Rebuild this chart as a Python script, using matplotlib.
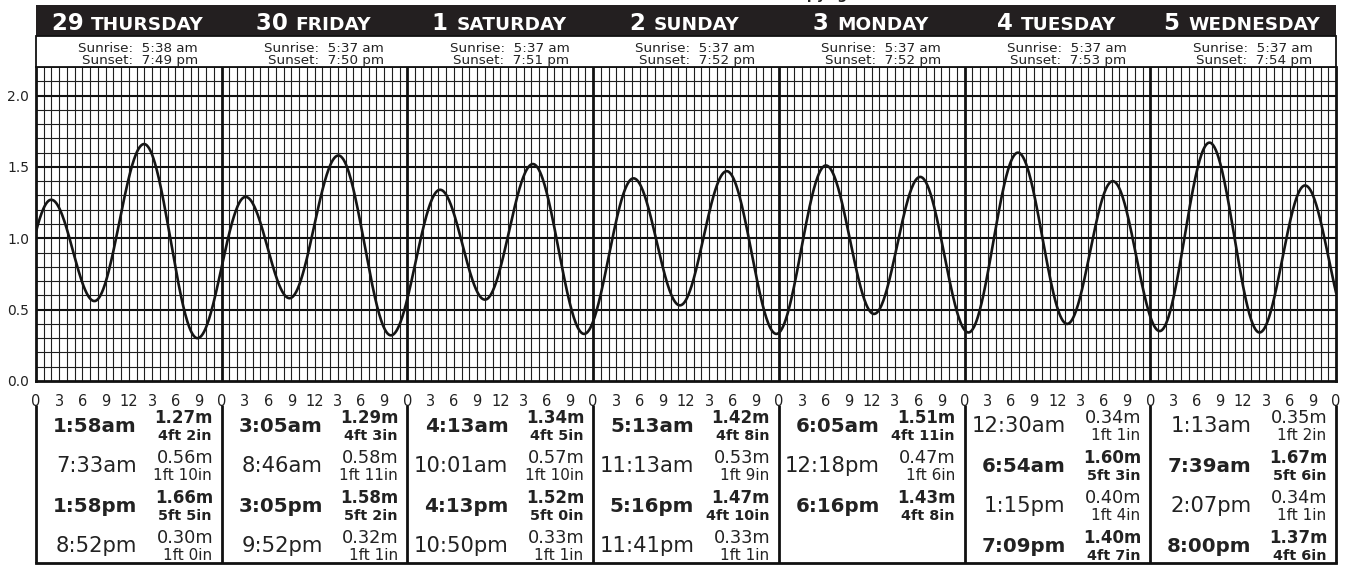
import matplotlib
matplotlib.use('Agg')
import matplotlib.pyplot as plt
import numpy as np
from matplotlib.patches import Rectangle
from matplotlib.transforms import blended_transform_factory, ScaledTranslation

# ---------------- data ----------------
day_nums = ['29', '30', '1', '2', '3', '4', '5']
day_names = ['THURSDAY', 'FRIDAY', 'SATURDAY', 'SUNDAY', 'MONDAY', 'TUESDAY', 'WEDNESDAY']
sunrise = ['5:38 am', '5:37 am', '5:37 am', '5:37 am', '5:37 am', '5:37 am', '5:37 am']
sunset = ['7:49 pm', '7:50 pm', '7:51 pm', '7:52 pm', '7:52 pm', '7:53 pm', '7:54 pm']

tide_day = [0, 0, 0, 0, 1, 1, 1, 1, 2, 2, 2, 2, 3, 3, 3, 3, 4, 4, 4, 5, 5, 5, 5, 6, 6, 6, 6]
tide_time = ['1:58am', '7:33am', '1:58pm', '8:52pm',
             '3:05am', '8:46am', '3:05pm', '9:52pm',
             '4:13am', '10:01am', '4:13pm', '10:50pm',
             '5:13am', '11:13am', '5:16pm', '11:41pm',
             '6:05am', '12:18pm', '6:16pm',
             '12:30am', '6:54am', '1:15pm', '7:09pm',
             '1:13am', '7:39am', '2:07pm', '8:00pm']
tide_m = [1.27, 0.56, 1.66, 0.30,
          1.29, 0.58, 1.58, 0.32,
          1.34, 0.57, 1.52, 0.33,
          1.42, 0.53, 1.47, 0.33,
          1.51, 0.47, 1.43,
          0.34, 1.60, 0.40, 1.40,
          0.35, 1.67, 0.34, 1.37]
tide_ftin = ['4ft 2in', '1ft 10in', '5ft 5in', '1ft 0in',
             '4ft 3in', '1ft 11in', '5ft 2in', '1ft 1in',
             '4ft 5in', '1ft 10in', '5ft 0in', '1ft 1in',
             '4ft 8in', '1ft 9in', '4ft 10in', '1ft 1in',
             '4ft 11in', '1ft 6in', '4ft 8in',
             '1ft 1in', '5ft 3in', '1ft 4in', '4ft 7in',
             '1ft 2in', '5ft 6in', '1ft 1in', '4ft 6in']
tide_type = ['H', 'L', 'H', 'L',
             'H', 'L', 'H', 'L',
             'H', 'L', 'H', 'L',
             'H', 'L', 'H', 'L',
             'H', 'L', 'H',
             'L', 'H', 'L', 'H',
             'L', 'H', 'L', 'H']
# extremes just outside the shown week (estimated from the curve ends)
edge_hours = [-4.2, 170.1]
edge_m = [0.30, 0.35]

hour_tick_labels = ['0', '3', '6', '9', '12', '3', '6', '9']
y_ticks = [0.0, 0.5, 1.0, 1.5, 2.0]
copyright_text = 'Copyright Tide Times'

# ---------------- helpers ----------------
def parse_time(s):
    hm, ap = s[:-2], s[-2:]
    h, m = hm.split(':')
    h = int(h) % 12 + (12 if ap == 'pm' else 0)
    return h + int(m) / 60.0

ext_h = [edge_hours[0]] + [24 * d + parse_time(t) for d, t in zip(tide_day, tide_time)] + [edge_hours[1]]
ext_v = [edge_m[0]] + tide_m + [edge_m[1]]

xs, ys = [], []
for i in range(len(ext_h) - 1):
    t0, t1 = ext_h[i], ext_h[i + 1]
    v0, v1 = ext_v[i], ext_v[i + 1]
    tt = np.linspace(t0, t1, 80)
    ph = (tt - t0) / (t1 - t0) * np.pi
    xs.append(tt)
    ys.append(v0 + (v1 - v0) * (1 - np.cos(ph)) / 2)
xs = np.concatenate(xs)
ys = np.concatenate(ys)

# ---------------- figure ----------------
W, H = 1348, 565
fig = plt.figure(figsize=(W / 100, H / 100), dpi=100)
fig.patch.set_facecolor('white')

L, R, B, T = 36, 1336, 381, 67
ax = fig.add_axes([L / W, (H - B) / H, (R - L) / W, (B - T) / H])
ax.set_xlim(0, 168)
ax.set_ylim(0, 2.2)

top = fig.add_axes([0, 0, 1, 1], zorder=5)
top.set_xlim(0, W)
top.set_ylim(H, 0)
top.axis('off')
top.patch.set_alpha(0)

tr = blended_transform_factory(ax.transData, top.transData)

def off(dx):
    return tr + ScaledTranslation(dx / 100.0, 0, fig.dpi_scale_trans)

# grid
gc = '#1e1e1e'
for h in range(1, 168):
    if h % 24 == 0:
        continue
    ax.axvline(h, color=gc, lw=0.8, zorder=1)
for k in range(1, 22):
    yv = k / 10
    if k % 5 == 0:
        ax.axhline(yv, color='#111111', lw=1.5, zorder=1)
    else:
        ax.axhline(yv, color=gc, lw=0.8, zorder=1)
for d in range(1, 7):
    ax.axvline(24 * d, color='#111111', lw=2.0, zorder=2)

ax.plot(xs, ys, color='#151515', lw=1.9, zorder=3, solid_capstyle='round')

for s in ax.spines.values():
    s.set_linewidth(2.0)
    s.set_color('#111111')
ax.spines['top'].set_linewidth(1.2)

ax.set_yticks(y_ticks)
ax.set_yticklabels([f'{v:.1f}' for v in y_ticks])
xt = list(range(0, 169, 3))
ax.set_xticks(xt)
ax.set_xticklabels([hour_tick_labels[(h % 24) // 3] for h in xt])
ax.tick_params(axis='both', length=0, labelsize=10, colors='#222222')
ax.tick_params(axis='y', pad=5)
ax.tick_params(axis='x', pad=9, labelsize=10.5)

# header black bar
top.add_patch(Rectangle((0, 5), 168, 31, transform=tr, facecolor='#231f20',
                        edgecolor='#231f20', lw=0))
# sunrise box
top.add_patch(Rectangle((0, 36), 168, 31, transform=tr, facecolor='white',
                        edgecolor='#111111', lw=1.3))

top.text(870, -1.0, copyright_text, ha='center', va='baseline', fontsize=10,
         fontweight='bold', color='#222222')

fig.canvas.draw()
renderer = fig.canvas.get_renderer()
for d in range(7):
    cx = 24 * d + 12
    t1 = top.text(cx, 30, day_nums[d] + ' ', fontsize=16.5, fontweight='bold',
                  color='white', va='baseline', ha='left', transform=tr)
    t2 = top.text(cx, 30, day_names[d], fontsize=13.3, fontweight='bold',
                  color='white', va='baseline', ha='left', transform=tr)
    w1 = t1.get_window_extent(renderer).width
    w2 = t2.get_window_extent(renderer).width
    start = -(w1 + w2) / 2 - 1
    t1.set_transform(off(start))
    t2.set_transform(off(start + w1))

    left = 24 * d
    top.text(left, 52.5, f'Sunrise:  {sunrise[d]}', transform=off(162), ha='right',
             va='baseline', fontsize=9.7, color='#222222')
    top.text(left, 64, f'Sunset:  {sunset[d]}', transform=off(162), ha='right',
             va='baseline', fontsize=9.7, color='#222222')

# table
for d in range(8):
    top.plot([24 * d, 24 * d], [405, 563], transform=tr, color='#111111', lw=2.0,
             solid_capstyle='butt')
top.plot([0, 168], [563, 563], transform=tr, color='#111111', lw=2.0,
         solid_capstyle='projecting')

row_count = {}
for i in range(len(tide_time)):
    d = tide_day[i]
    r = row_count.get(d, 0)
    row_count[d] = r + 1
    left = 24 * d
    hi = tide_type[i] == 'H'
    fw = 'bold' if hi else 'normal'
    top.text(left, 432 + 40 * r, tide_time[i], transform=off(101), ha='right',
             va='baseline', fontsize=14.3 if hi else 15.2, fontweight=fw, color='#222222')
    top.text(left, 423 + 40 * r, f'{tide_m[i]:.2f}m', transform=off(177), ha='right',
             va='baseline', fontsize=12.0 if hi else 12.8, fontweight=fw, color='#222222')
    top.text(left, 439.5 + 40 * r, tide_ftin[i], transform=off(176), ha='right',
             va='baseline', fontsize=10.4 if hi else 11.0, fontweight=fw, color='#222222')

fig.savefig('out.png', dpi=100, facecolor='white')
